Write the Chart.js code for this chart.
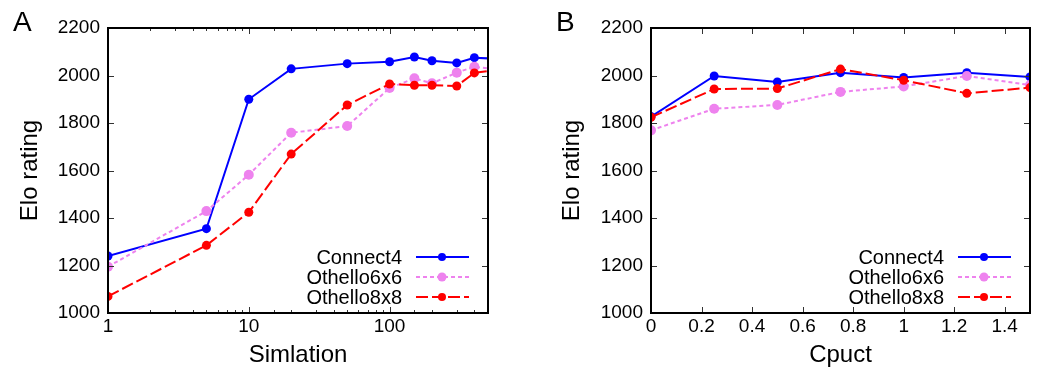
<!DOCTYPE html>
<html>
<head>
<meta charset="utf-8">
<script src="https://cdn.jsdelivr.net/npm/chart.js@4"></script>
<style>
  body { margin: 0; background: #fff; width: 1043px; height: 371px; position: relative; overflow: hidden;
         font-family: "Liberation Sans", Arial, sans-serif; }
  .panel { position: absolute; top: 0; height: 371px; }
  .tag { position: absolute; top: 8px; font-size: 28px; line-height: 28px; color: #000; }
</style>
</head>
<body>
<div class="panel" style="left:0;width:520px"><canvas id="chartA"></canvas></div>
<div class="panel" style="left:520px;width:523px"><canvas id="chartB"></canvas></div>
<div class="tag" style="left:13px">A</div>
<div class="tag" style="left:556px">B</div>
<script>
// panel A: number of simulations (log axis); last point lies past the right edge
const simulations = [1, 5, 10, 20, 50, 100, 150, 200, 300, 400, 800];
const simConnect4 = [1240, 1355, 1900, 2028, 2050, 2058, 2078, 2062, 2053, 2075, 2066];
const simOthello6 = [1195, 1429, 1582, 1759, 1787, 1947, 1988, 1967, 2012, 2037, 2015];
const simOthello8 = [1070, 1285, 1424, 1669, 1876, 1964, 1959, 1959, 1956, 2011, 2036];

// panel B: Cpuct
const cpuct = [0, 0.25, 0.5, 0.75, 1.0, 1.25, 1.5];
const cpuctConnect4 = [1827, 1998, 1973, 2012, 1992, 2012, 1994];
const cpuctOthello6 = [1769, 1860, 1876, 1931, 1954, 1998, 1960];
const cpuctOthello8 = [1824, 1943, 1945, 2027, 1980, 1925, 1949];

const seriesNames = ["Connect4", "Othello6x6", "Othello8x8"];

Chart.defaults.font.family = '"Liberation Sans", Arial, sans-serif';
Chart.defaults.color = "#000";

function makeDatasets(xs, ys) {
  const styles = [
    { borderColor: "#0000ff", borderDash: [], pointRadius: 4.5, order: 3 },
    { borderColor: "#ee82ee", borderDash: [4, 3], pointRadius: 5, order: 2 },
    { borderColor: "#ff0000", borderDash: [12, 4], pointRadius: 4.5, order: 1 },
  ];
  return ys.map((vals, i) => ({
    label: seriesNames[i],
    data: vals.map((v, j) => ({ x: xs[j], y: v })),
    borderColor: styles[i].borderColor,
    backgroundColor: styles[i].borderColor,
    borderDash: styles[i].borderDash,
    borderWidth: 2,
    pointRadius: styles[i].pointRadius,
    pointBorderWidth: 0,
    tension: 0,
    order: styles[i].order,
  }));
}

// gnuplot-like frame with inward ticks on all four sides
const framePlugin = {
  id: "frame",
  afterDatasetsDraw(chart) {
    const { ctx, chartArea: a } = chart;
    const xs = chart.scales.x, ys = chart.scales.y;
    const isLog = xs.type === "logarithmic";
    ctx.save();
    ctx.strokeStyle = "#333";
    ctx.lineWidth = 1;
    ctx.beginPath();
    xs.ticks.forEach(t => {
      const px = Math.round(xs.getPixelForValue(t.value)) + 0.5;
      if (px <= a.left + 1 || px >= a.right - 1) return;
      const len = isLog && !Number.isInteger(Math.log10(t.value)) ? 3 : 6;
      ctx.moveTo(px, a.bottom); ctx.lineTo(px, a.bottom - len);
      ctx.moveTo(px, a.top); ctx.lineTo(px, a.top + len);
    });
    ys.ticks.forEach(t => {
      const py = Math.round(ys.getPixelForValue(t.value)) + 0.5;
      if (py <= a.top + 1 || py >= a.bottom - 1) return;
      ctx.moveTo(a.left, py); ctx.lineTo(a.left + 6, py);
      ctx.moveTo(a.right, py); ctx.lineTo(a.right - 6, py);
    });
    ctx.stroke();
    ctx.strokeStyle = "#000";
    ctx.lineWidth = 2;
    ctx.strokeRect(a.left, a.top, a.right - a.left, a.bottom - a.top);
    ctx.restore();
  },
  afterDraw(chart) {
    // key inside the plot, bottom right: text then line sample
    const { ctx, chartArea: a } = chart;
    ctx.save();
    ctx.font = '20px "Liberation Sans", Arial, sans-serif';
    ctx.textAlign = "right";
    ctx.textBaseline = "middle";
    chart.data.datasets.forEach((ds, i) => {
      const y = a.bottom - 56 + i * 20;
      ctx.fillStyle = "#000";
      ctx.fillText(ds.label, a.right - 86, y + 1);
      ctx.strokeStyle = ds.borderColor;
      ctx.lineWidth = 2;
      ctx.setLineDash(ds.borderDash);
      ctx.beginPath();
      ctx.moveTo(a.right - 72, y);
      ctx.lineTo(a.right - 19, y);
      ctx.stroke();
      ctx.setLineDash([]);
      ctx.fillStyle = ds.borderColor;
      ctx.beginPath();
      ctx.arc(a.right - 46, y, ds.pointRadius - 0.5, 0, Math.PI * 2);
      ctx.fill();
    });
    ctx.restore();
  },
};

function yAxis(width, titlePad) {
  return {
    min: 1000,
    max: 2200,
    border: { display: false },
    grid: { display: false, drawTicks: false },
    ticks: { stepSize: 200, padding: 8, font: { size: 19 }, callback: v => String(v) },
    title: { display: true, text: "Elo rating", font: { size: 24 }, padding: { top: titlePad, bottom: 0 } },
    afterFit(s) { s.width = width; },
  };
}

new Chart(document.getElementById("chartA"), {
  type: "line",
  data: { datasets: makeDatasets(simulations, [simConnect4, simOthello6, simOthello8]) },
  options: {
    animation: false,
    responsive: true,
    maintainAspectRatio: false,
    layout: { padding: { top: 28, right: 32, left: 0, bottom: 0 } },
    plugins: { legend: { display: false }, tooltip: { enabled: false } },
    scales: {
      x: {
        type: "logarithmic",
        min: 1,
        max: 500,
        border: { display: false },
        grid: { display: false, drawTicks: false },
        ticks: {
          autoSkip: false,
          maxRotation: 0,
          padding: 2,
          font: { size: 19 },
          callback: v => (Number.isInteger(Math.log10(v)) ? String(v) : ""),
        },
        title: { display: true, text: "Simlation", font: { size: 24 }, padding: { top: 0, bottom: 1 } },
        afterFit(s) { s.height = 58; },
      },
      y: yAxis(108, 16),
    },
  },
  plugins: [framePlugin],
});

new Chart(document.getElementById("chartB"), {
  type: "line",
  data: { datasets: makeDatasets(cpuct, [cpuctConnect4, cpuctOthello6, cpuctOthello8]) },
  options: {
    animation: false,
    responsive: true,
    maintainAspectRatio: false,
    layout: { padding: { top: 28, right: 13, left: 0, bottom: 0 } },
    plugins: { legend: { display: false }, tooltip: { enabled: false } },
    scales: {
      x: {
        type: "linear",
        min: 0,
        max: 1.5,
        border: { display: false },
        grid: { display: false, drawTicks: false },
        ticks: {
          stepSize: 0.2,
          includeBounds: false,
          autoSkip: false,
          maxRotation: 0,
          padding: 2,
          font: { size: 19 },
          callback: v => String(Math.round(v * 10) / 10),
        },
        title: { display: true, text: "Cpuct", font: { size: 24 }, padding: { top: 0, bottom: 1 } },
        afterFit(s) { s.height = 58; },
      },
      y: yAxis(131, 38),
    },
  },
  plugins: [framePlugin],
});
</script>
</body>
</html>
